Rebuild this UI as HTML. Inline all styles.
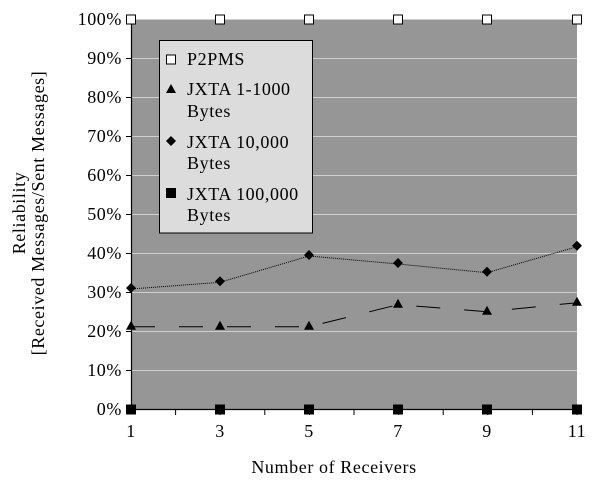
<!DOCTYPE html>
<html><head><meta charset="utf-8"><style>
html,body{margin:0;padding:0;background:#fff;}
svg{display:block;font-family:"Liberation Serif",serif;}
text{letter-spacing:0.6px;}
</style></head><body>
<svg width="606" height="487" viewBox="0 0 606 487">
<rect x="131" y="19.5" width="446" height="389.5" fill="#969696"/>
<g stroke="#d0d0d0" stroke-width="1">
<line x1="131" x2="577" y1="58.5" y2="58.5"/><line x1="131" x2="577" y1="97.5" y2="97.5"/>
<line x1="131" x2="577" y1="136.5" y2="136.5"/><line x1="131" x2="577" y1="175.5" y2="175.5"/>
<line x1="131" x2="577" y1="214.5" y2="214.5"/><line x1="131" x2="577" y1="253.5" y2="253.5"/>
<line x1="131" x2="577" y1="292.5" y2="292.5"/><line x1="131" x2="577" y1="331.5" y2="331.5"/>
<line x1="131" x2="577" y1="370.5" y2="370.5"/>
</g>
<line x1="131" x2="577" y1="19.5" y2="19.5" stroke="#d0d0d0" stroke-dasharray="2,2"/>
<g stroke="#000" stroke-width="1.2">
<line x1="131.5" x2="131.5" y1="19" y2="409"/>
<line x1="131" x2="577" y1="409.5" y2="409.5"/>
</g>
<g stroke="#000">
<line x1="126" x2="131" y1="19.5" y2="19.5"/><line x1="126" x2="131" y1="58.5" y2="58.5"/>
<line x1="126" x2="131" y1="97.5" y2="97.5"/><line x1="126" x2="131" y1="136.5" y2="136.5"/>
<line x1="126" x2="131" y1="175.5" y2="175.5"/><line x1="126" x2="131" y1="214.5" y2="214.5"/>
<line x1="126" x2="131" y1="253.5" y2="253.5"/><line x1="126" x2="131" y1="292.5" y2="292.5"/>
<line x1="126" x2="131" y1="331.5" y2="331.5"/><line x1="126" x2="131" y1="370.5" y2="370.5"/>
<line x1="126" x2="131" y1="409.5" y2="409.5"/>
<line x1="175.6" x2="175.6" y1="409" y2="415"/><line x1="220.2" x2="220.2" y1="409" y2="415"/>
<line x1="264.8" x2="264.8" y1="409" y2="415"/><line x1="309.4" x2="309.4" y1="409" y2="415"/>
<line x1="354" x2="354" y1="409" y2="415"/><line x1="398.6" x2="398.6" y1="409" y2="415"/>
<line x1="443.2" x2="443.2" y1="409" y2="415"/><line x1="487.8" x2="487.8" y1="409" y2="415"/>
<line x1="532.4" x2="532.4" y1="409" y2="415"/><line x1="577" x2="577" y1="409" y2="415"/>
</g>
<g font-size="18" text-anchor="end" fill="#000">
<text x="122" y="25">100%</text><text x="122" y="64">90%</text><text x="122" y="103">80%</text>
<text x="122" y="142">70%</text><text x="122" y="181">60%</text><text x="122" y="220">50%</text>
<text x="122" y="259">40%</text><text x="122" y="298">30%</text><text x="122" y="337">20%</text>
<text x="122" y="376">10%</text><text x="122" y="415">0%</text>
</g>
<g font-size="18" text-anchor="middle">
<text x="131" y="437">1</text><text x="220" y="437">3</text><text x="309" y="437">5</text>
<text x="398" y="437">7</text><text x="487" y="437">9</text><text x="577" y="437">11</text>
<text x="334" y="473" letter-spacing="1">Number of Receivers</text>
</g>
<g font-size="18" text-anchor="middle" transform="translate(30,213) rotate(-90)">
<text x="0" y="-5" letter-spacing="1">Reliability</text>
<text x="0" y="14" letter-spacing="1.3">[Received Messages/Sent Messages]</text>
</g>
<polyline fill="none" stroke="#000" stroke-width="1" stroke-dasharray="1,1" points="131,289 220,282.3 309,256 398,264 487,272.7 577,246.7"/>
<polyline fill="none" stroke="#000" stroke-width="1" stroke-dasharray="24,24" points="131,326.7 220,326.7 309,326.7 398,304.7 487,311.7 577,302.7"/>
<g fill="#000">
<path d="M131,283 l5,5 l-5,5 l-5,-5z M220,276.3 l5,5 l-5,5 l-5,-5z M309,250 l5,5 l-5,5 l-5,-5z M398,258 l5,5 l-5,5 l-5,-5z M487,266.7 l5,5 l-5,5 l-5,-5z M577,240.7 l5,5 l-5,5 l-5,-5z"/>
<path d="M131,320.7 l5,9 h-10z M220,320.7 l5,9 h-10z M309,320.7 l5,9 h-10z M398,298.7 l5,9 h-10z M487,305.7 l5,9 h-10z M577,296.7 l5,9 h-10z"/>
<rect x="126" y="404.5" width="10" height="10"/><rect x="215" y="404.5" width="10" height="10"/>
<rect x="304" y="404.5" width="10" height="10"/><rect x="393" y="404.5" width="10" height="10"/>
<rect x="482" y="404.5" width="10" height="10"/><rect x="572" y="404.5" width="10" height="10"/>
</g>
<g fill="#fff" stroke="#000">
<rect x="126.5" y="15" width="9" height="9"/><rect x="215.5" y="15" width="9" height="9"/>
<rect x="304.5" y="15" width="9" height="9"/><rect x="393.5" y="15" width="9" height="9"/>
<rect x="482.5" y="15" width="9" height="9"/><rect x="572.5" y="15" width="9" height="9"/>
</g>
<rect x="159.5" y="40.5" width="153" height="192.5" fill="#dcdcdc" stroke="#000"/>
<rect x="166.5" y="55" width="9" height="9" fill="#fff" stroke="#000"/>
<path d="M171,84 l5,9 h-10z" fill="#000"/>
<path d="M171,136 l5,5 l-5,5 l-5,-5z" fill="#000"/>
<rect x="166" y="188" width="10" height="10" fill="#000"/>
<g font-size="18" fill="#000">
<text x="187" y="65">P2PMS</text>
<text x="187" y="95">JXTA 1-1000</text><text x="187" y="117">Bytes</text>
<text x="187" y="148">JXTA 10,000</text><text x="187" y="169">Bytes</text>
<text x="187" y="200">JXTA 100,000</text><text x="187" y="221">Bytes</text>
</g>
</svg>
</body></html>
